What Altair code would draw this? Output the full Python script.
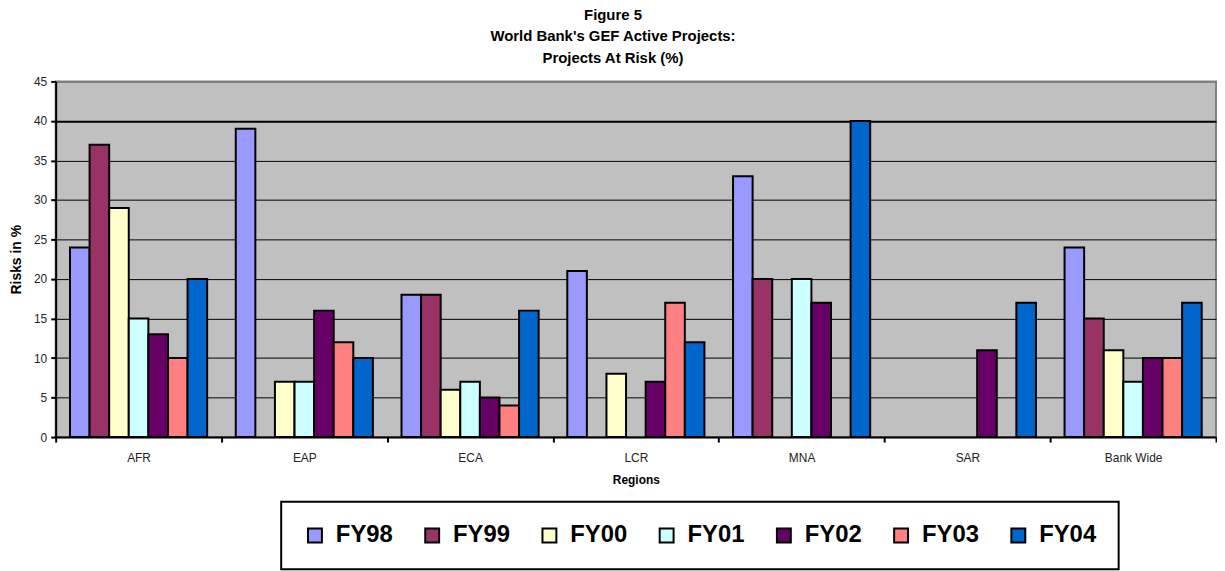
import altair as alt
import pandas as pd

regions = ["AFR", "EAP", "ECA", "LCR", "MNA", "SAR", "Bank Wide"]
series = ["FY98", "FY99", "FY00", "FY01", "FY02", "FY03", "FY04"]
fy98 = [24, 39, 18, 21, 33, None, 24]
fy99 = [37, None, 18, None, 20, None, 15]
fy00 = [29, 7, 6, 8, None, None, 11]
fy01 = [15, 7, 7, None, 20, None, 7]
fy02 = [13, 16, 5, 7, 17, 11, 10]
fy03 = [10, 12, 4, 17, None, None, 10]
fy04 = [20, 10, 16, 12, 40, 17, 17]
colors = ["#9999FF", "#993366", "#FFFFCC", "#CCFFFF", "#660066", "#FF8080", "#0066CC"]
y_ticks = [0, 5, 10, 15, 20, 25, 30, 35, 40, 45]

rows = []
for s, vals in zip(series, [fy98, fy99, fy00, fy01, fy02, fy03, fy04]):
    for r, v in zip(regions, vals):
        if v is not None:
            rows.append({"Region": r, "Series": s, "Value": v})
df = pd.DataFrame(rows)

FONT = "Liberation Sans"

chart = alt.Chart(df).mark_bar(stroke="black", strokeWidth=2, strokeJoin="miter").encode(
    x=alt.X("Region:N", sort=regions, title="Regions",
            scale=alt.Scale(paddingInner=0, paddingOuter=0),
            axis=alt.Axis(labelAngle=0, tickBand="extent", tickSize=5, tickColor="black",
                          tickWidth=2, domainColor="black", domainWidth=2,
                          labelFont=FONT, labelFontSize=12, labelColor="#222222", labelPadding=11,
                          titleFont=FONT, titleFontSize=12, titleFontWeight="bold",
                          titleColor="black", titlePadding=11, grid=False)),
    xOffset=alt.XOffset("Series:N", sort=series,
                        scale=alt.Scale(paddingInner=0, paddingOuter=0.73)),
    y=alt.Y("Value:Q", title="Risks in %",
            scale=alt.Scale(domain=[0, 45], nice=False),
            axis=alt.Axis(values=y_ticks, tickSize=5, tickColor="black", tickWidth=2,
                          domainColor="black", domainWidth=2,
                          labelFont=FONT, labelFontSize=12, labelColor="#222222", labelPadding=4,
                          titleFont=FONT, titleFontSize=14, titleFontWeight="bold",
                          titleColor="black", titlePadding=10,
                          grid=True,
                          gridColor={"condition": {"test": "datum.value == 45", "value": "#808080"}, "value": "black"},
                          gridWidth={"condition": {"test": "datum.value == 40 || datum.value == 45", "value": 2}, "value": 1},
                          gridOpacity=1)),
    color=alt.Color("Series:N", sort=series,
                    scale=alt.Scale(domain=series, range=colors),
                    legend=alt.Legend(title=None, orient="none", legendX=227, legendY=423,
                                      direction="horizontal", columns=7,
                                      symbolType="square", symbolSize=196,
                                      symbolStrokeColor="black", symbolStrokeWidth=2,
                                      symbolOpacity=1,
                                      labelFont=FONT, labelFontSize=24, labelFontWeight="bold",
                                      labelColor="black", labelOffset=9, columnPadding=27,
                                      padding=22, strokeColor="black",
                                      fillColor="white", cornerRadius=0)),
).properties(
    width=1168,
    height=358,
    autosize=alt.AutoSizeParams(type="none"),
    padding={"left": 48, "top": 72, "right": 1, "bottom": 150},
    title=alt.TitleParams(["Figure 5", "World Bank's GEF Active Projects:", "Projects At Risk (%)"],
                          font=FONT, fontSize=15, fontWeight="bold", color="black",
                          lineHeight=21.5, anchor="middle", dx=-23, offset=10),
).configure_view(
    fill="#C0C0C0", stroke="#808080", strokeWidth=2
).configure_legend(
    strokeWidth=2
)

chart.save("out.html", embed_options={"renderer": "svg", "actions": False})
